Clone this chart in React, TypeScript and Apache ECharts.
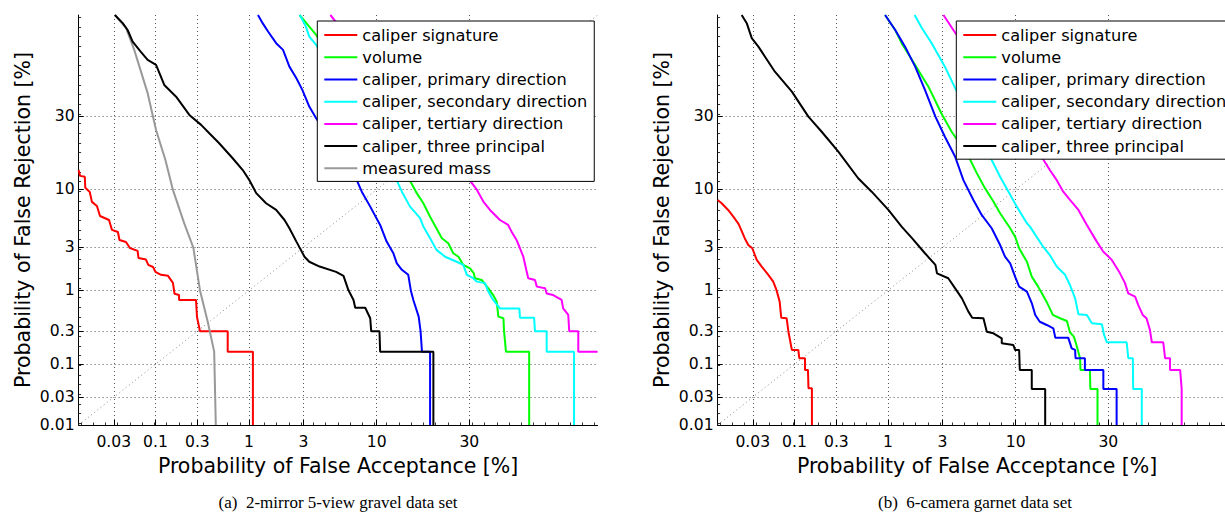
import React, { useEffect, useRef } from "react";
import * as echarts from "echarts";

// ---------- tick labels (percent) ----------
const xTickLabels = [0.03, 0.1, 0.3, 1, 3, 10, 30];
const yTickLabels = [0.01, 0.03, 0.1, 0.3, 1, 3, 10, 30];
const axisMinPct = 0.01;
const axisMaxPct = 70;

const seriesNamesA = [
  "caliper signature",
  "volume",
  "caliper, primary direction",
  "caliper, secondary direction",
  "caliper, tertiary direction",
  "caliper, three principal",
  "measured mass",
];
const seriesNamesB = seriesNamesA.slice(0, 6);
const seriesColors = ["#ff0000", "#00ff00", "#0000ff", "#00ffff", "#ff00ff", "#000000", "#999999"];

const diagonal = [[0.01, 0.01], [70, 70]];

// ---------- panel (a): 2-mirror 5-view gravel data set  [FA %, FR %] ----------
const gravelCaliperSignature = [[0.01,14],[0.0105,12.7],[0.0122,12.5],[0.0124,10.3],[0.0143,9.56],[0.0153,7.93],[0.0179,7.33],[0.0197,5.99],[0.026,5.51],[0.0284,4.46],[0.034,4.26],[0.0356,3.56],[0.0432,3.4],[0.0484,2.96],[0.0605,2.76],[0.062,2.33],[0.0767,2.24],[0.0818,1.96],[0.0935,1.86],[0.0998,1.64],[0.1162,1.52],[0.1404,1.48],[0.16,1.23],[0.167,0.91],[0.188,0.88],[0.188,0.766],[0.29,0.766],[0.297,0.465],[0.32,0.3],[0.621,0.3],[0.621,0.154],[1.09,0.154],[1.09,0.01]];
const gravelVolume = [[2.79,70],[3.34,65.7],[3.78,62.5],[15.65,11.7],[17.0,9.35],[18.4,7.72],[19.9,5.9],[22.7,3.71],[24.3,3.3],[25.6,2.61],[27.0,2.4],[28.3,1.96],[30.2,1.8],[31.3,1.58],[31.6,1.39],[33.6,1.33],[35.6,1.06],[37.1,0.88],[38.2,0.73],[38.7,0.47],[40.3,0.447],[40.5,0.3],[41.1,0.154],[48.6,0.154],[48.6,0.01]];
const gravelPrimary = [[1.215,70],[1.34,67.0],[1.5,63.8],[1.77,59.2],[2.03,56.5],[2.3,49.6],[2.63,44.8],[2.94,40.1],[3.34,33.6],[3.78,29.3],[7.45,11.7],[8.02,9.61],[9.1,7.23],[10.5,4.96],[11.5,3.43],[12.6,2.61],[13.2,2.04],[14.1,1.73],[15.3,1.52],[15.8,1.0],[16.3,0.766],[17.4,0.47],[17.8,0.3],[18.1,0.154],[19.9,0.154],[19.9,0.01]];
const gravelSecondary = [[2.81,70],[3.14,65.7],[3.34,61.8],[3.78,58.5],[13.2,11.7],[14.1,9.61],[15.65,7.23],[17.7,5.72],[18.4,4.79],[19.9,3.71],[21.4,2.83],[23.5,2.4],[26.5,2.12],[28.3,1.96],[29.3,1.52],[31.1,1.39],[32.2,1.27],[34.6,1.22],[35.6,0.97],[37.1,0.766],[39.2,0.6],[45.4,0.6],[45.6,0.455],[50.2,0.455],[50.5,0.3],[54.3,0.3],[54.3,0.154],[63.0,0.154],[63.0,0.01]];
const gravelTertiary = [[4.84,70],[5.25,67.8],[30.2,11.7],[32.2,9.92],[34.1,7.98],[36.1,6.77],[39.2,5.51],[41.8,4.96],[42.9,4.29],[44.5,3.56],[45.6,2.94],[46.7,2.4],[47.8,1.65],[48.3,1.39],[50.5,1.33],[51.1,1.11],[53.8,1.06],[54.3,0.92],[56.4,0.88],[59.1,0.766],[59.6,0.6],[61.2,0.494],[61.5,0.3],[64.3,0.3],[64.3,0.154],[70,0.154]];
const gravelThreePrincipal = [[0.031,70],[0.0392,67.0],[0.0453,64.4],[0.0524,59.8],[0.066,55.8],[0.0804,52.4],[0.1015,50.3],[0.127,42.1],[0.174,37.4],[0.245,30.5],[0.329,27.0],[0.402,24.2],[0.509,21.1],[0.696,16.9],[0.873,14.0],[1.01,11.8],[1.17,9.35],[1.44,7.72],[1.77,6.77],[2.09,5.51],[2.3,4.62],[2.63,3.43],[3.06,2.4],[3.34,2.12],[4.02,1.88],[5.33,1.64],[6.02,1.48],[6.51,1.01],[7.06,0.766],[7.25,0.612],[8.45,0.612],[9.1,0.447],[9.23,0.3],[10.4,0.3],[10.5,0.154],[20.66,0.154],[20.66,0.01]];
const gravelMeasuredMass = [[0.031,70],[0.0432,65.2],[0.0549,56.5],[0.0804,38.8],[0.1015,25.3],[0.131,16.45],[0.16,9.92],[0.214,5.18],[0.271,2.99],[0.32,1.0],[0.387,0.402],[0.452,0.154],[0.47,0.01]];

// ---------- panel (b): 6-camera garnet data set  [FA %, FR %] ----------
const garnetCaliperSignature = [[0.01,8.23],[0.0114,7.72],[0.014,6.77],[0.0165,5.9],[0.0192,5.14],[0.0197,4.96],[0.0235,3.71],[0.0262,3.17],[0.0296,2.94],[0.0338,2.22],[0.0392,1.88],[0.0476,1.52],[0.0549,1.27],[0.0605,1.0],[0.066,0.73],[0.069,0.455],[0.0804,0.447],[0.0845,0.295],[0.093,0.163],[0.111,0.163],[0.114,0.123],[0.133,0.123],[0.133,0.082],[0.144,0.082],[0.146,0.042],[0.16,0.042],[0.16,0.01]];
const garnetVolume = [[0.94,70],[1.17,64.4],[1.34,59.2],[1.77,50.3],[2.3,41.4],[2.94,31.1],[3.55,24.7],[4.26,20.1],[4.92,16.45],[5.48,13.3],[6.28,10.2],[7.16,7.98],[7.94,6.34],[9.23,4.62],[9.91,3.84],[10.5,2.94],[11.7,2.12],[12.5,1.45],[13.6,1.11],[14.3,0.92],[15.3,0.7],[16.4,0.494],[17.9,0.447],[19.4,0.412],[20.1,0.29],[21.0,0.252],[21.5,0.203],[22.5,0.123],[22.6,0.082],[25.0,0.082],[25.1,0.041],[27.0,0.041],[27.0,0.01]];
const garnetPrimary = [[0.94,70],[1.17,64.4],[1.44,57.8],[1.77,49.6],[2.15,40.1],[2.63,29.9],[3.14,23.1],[3.78,17.3],[4.37,11.8],[5.18,8.23],[5.94,6.12],[6.97,4.62],[7.94,3.17],[8.55,2.4],[9.23,2.04],[9.91,1.45],[10.5,1.11],[11.7,0.97],[12.5,0.7],[13.1,0.494],[13.9,0.402],[15.2,0.364],[16.5,0.328],[16.9,0.244],[19.7,0.244],[20.5,0.172],[21.3,0.163],[21.4,0.123],[23.7,0.123],[23.7,0.082],[28.6,0.082],[28.6,0.041],[32.4,0.041],[32.4,0.01]];
const garnetSecondary = [[1.75,70],[2.03,65.1],[2.45,59.2],[3.14,49.6],[3.78,40.8],[6.97,16.45],[7.94,12.5],[9.0,9.61],[10.15,7.23],[11.7,5.14],[12.2,4.79],[14.3,3.17],[15.8,2.5],[17.2,1.88],[19.0,1.52],[20.1,1.16],[21.3,0.8],[22.1,0.504],[24.2,0.494],[25.5,0.384],[28.2,0.373],[28.8,0.266],[29.6,0.21],[35.4,0.21],[35.9,0.123],[37.3,0.123],[37.4,0.041],[40.1,0.041],[40.1,0.01]];
const garnetTertiary = [[3.06,70],[3.66,64.4],[14.6,16.45],[15.8,14.0],[17.2,11.8],[18.6,9.61],[20.1,8.23],[22.1,6.77],[24.2,4.96],[26.8,3.43],[28.6,2.71],[31.0,2.22],[33.4,1.58],[34.9,1.22],[35.9,0.92],[38.0,0.84],[39.0,0.66],[40.4,0.494],[41.6,0.447],[42.7,0.31],[43.3,0.21],[47.0,0.21],[47.6,0.123],[49.2,0.123],[49.2,0.082],[52.5,0.082],[53.0,0.041],[53.0,0.01]];
const garnetThreePrincipal = [[0.0214,70],[0.025,67.0],[0.0291,61.2],[0.0355,57.8],[0.0432,53.7],[0.0576,47.5],[0.093,39.4],[0.1456,29.9],[0.2066,24.7],[0.3147,18.7],[0.509,12.2],[0.696,9.61],[1.01,6.77],[1.34,4.79],[1.66,3.71],[2.15,2.61],[2.63,1.96],[2.71,1.58],[3.34,1.39],[3.78,1.06],[4.26,0.8],[4.76,0.545],[5.08,0.455],[6.11,0.447],[6.45,0.295],[7.16,0.28],[8.14,0.239],[8.14,0.203],[9.66,0.192],[9.91,0.163],[10.5,0.163],[10.6,0.082],[12.5,0.082],[12.5,0.041],[14.9,0.041],[14.9,0.01]];

const captionA = "(a)\u00a0\u00a02-mirror 5-view gravel data set";
const captionB = "(b)\u00a0\u00a06-camera garnet data set";

// ---------- normal-deviate (DET) scale ----------
function probit(p: number): number {
  const a = [-3.969683028665376e1, 2.209460984245205e2, -2.759285104469687e2, 1.38357751867269e2, -3.066479806614716e1, 2.506628277459239];
  const b = [-5.447609879822406e1, 1.615858368580409e2, -1.556989798598866e2, 6.680131188771972e1, -1.328068155288572e1];
  const c = [-7.784894002430293e-3, -3.223964580411365e-1, -2.400758277161838, -2.549732539343734, 4.374664141464968, 2.938163982698783];
  const d = [7.784695709041462e-3, 3.224671290700398e-1, 2.445134137142996, 3.754408661907416];
  const pl = 0.02425;
  if (p < pl) {
    const q = Math.sqrt(-2 * Math.log(p));
    return (((((c[0] * q + c[1]) * q + c[2]) * q + c[3]) * q + c[4]) * q + c[5]) / ((((d[0] * q + d[1]) * q + d[2]) * q + d[3]) * q + 1);
  }
  if (p <= 1 - pl) {
    const q = p - 0.5, r = q * q;
    return ((((((a[0] * r + a[1]) * r + a[2]) * r + a[3]) * r + a[4]) * r + a[5]) * q) / (((((b[0] * r + b[1]) * r + b[2]) * r + b[3]) * r + b[4]) * r + 1);
  }
  const q = Math.sqrt(-2 * Math.log(1 - p));
  return -(((((c[0] * q + c[1]) * q + c[2]) * q + c[3]) * q + c[4]) * q + c[5]) / ((((d[0] * q + d[1]) * q + d[2]) * q + d[3]) * q + 1);
}
const z = (pct: number) => probit(pct / 100);
const toDet = (pts: number[][]) => pts.map(([fa, fr]) => [z(fa), z(fr)]);

const FONT = "DejaVu Sans";

export default function App() {
  const ref = useRef<HTMLDivElement>(null);
  useEffect(() => {
    if (!ref.current) return;
    const chart = echarts.init(ref.current, null, { renderer: "svg" });
    const zmin = z(axisMinPct);
    const zmax = z(axisMaxPct);
    const minor: number[] = [];
    for (let k = Math.ceil(zmin * 10); k <= Math.floor(zmax * 10); k++) minor.push(k / 10);

    const labelFor = (list: number[]) => (v: number) => {
      let best = list[0];
      let bd = Infinity;
      for (const t of list) {
        const dd = Math.abs(z(t) - v);
        if (dd < bd) { bd = dd; best = t; }
      }
      return String(best);
    };

    const mainX = (gi: number) => ({
      type: "value", gridIndex: gi, min: zmin, max: zmax, position: "bottom",
      name: "Probability of False Acceptance [%]", nameLocation: "middle", nameGap: 30,
      nameTextStyle: { fontFamily: FONT, fontSize: 20.5, color: "#000" },
      axisLine: { show: true, onZero: false, lineStyle: { color: "#000", width: 1 } },
      axisTick: { show: true, inside: true, length: 5, customValues: xTickLabels.map(z), lineStyle: { color: "#000" } },
      axisLabel: { show: true, customValues: xTickLabels.map(z), formatter: labelFor(xTickLabels), margin: 9, fontFamily: FONT, fontSize: 15.6, color: "#000" },
      splitLine: { show: true, lineStyle: { color: "#555", type: [1, 3], width: 1 } },
    });
    const minorX = (gi: number) => ({
      type: "value", gridIndex: gi, min: zmin, max: zmax, position: "bottom",
      axisLine: { show: false, onZero: false }, axisLabel: { show: false }, splitLine: { show: false },
      axisTick: { show: true, inside: true, length: 2.5, customValues: minor, lineStyle: { color: "#333" } },
    });
    const mainY = (gi: number) => ({
      type: "value", gridIndex: gi, min: zmin, max: zmax, position: "left",
      name: "Probability of False Rejection [%]", nameLocation: "middle", nameGap: 45, nameRotate: 90,
      nameTextStyle: { fontFamily: FONT, fontSize: 20.5, color: "#000" },
      axisLine: { show: true, onZero: false, lineStyle: { color: "#000", width: 1 } },
      axisTick: { show: true, inside: true, length: 5, customValues: yTickLabels.map(z), lineStyle: { color: "#000" } },
      axisLabel: { show: true, customValues: yTickLabels.map(z), formatter: labelFor(yTickLabels), margin: 4, fontFamily: FONT, fontSize: 15.6, color: "#000" },
      splitLine: { show: true, lineStyle: { color: "#555", type: [1, 3], width: 1 } },
    });
    const minorY = (gi: number) => ({
      type: "value", gridIndex: gi, min: zmin, max: zmax, position: "left",
      axisLine: { show: false, onZero: false }, axisLabel: { show: false }, splitLine: { show: false },
      axisTick: { show: true, inside: true, length: 2.5, customValues: minor, lineStyle: { color: "#333" } },
    });

    const lineSeries = (name: string, data: number[][], color: string, axis: number) => ({
      type: "line", name, data: toDet(data), xAxisIndex: axis, yAxisIndex: axis,
      showSymbol: false, symbol: "none", lineStyle: { color, width: 2 }, itemStyle: { color },
      emphasis: { disabled: true }, clip: true, z: 3,
    });
    const diagSeries = (axis: number) => ({
      type: "line", name: "diag", data: toDet(diagonal), xAxisIndex: axis, yAxisIndex: axis,
      showSymbol: false, symbol: "none", lineStyle: { color: "#888", width: 1, type: [1, 3] },
      emphasis: { disabled: true }, silent: true, z: 2,
    });

    const dataA = [gravelCaliperSignature, gravelVolume, gravelPrimary, gravelSecondary, gravelTertiary, gravelMeasuredMass, gravelThreePrincipal];
    const namesAOrder = [0, 1, 2, 3, 4, 6, 5];
    const dataB = [garnetCaliperSignature, garnetVolume, garnetPrimary, garnetSecondary, garnetTertiary, garnetThreePrincipal];

    const series: any[] = [diagSeries(0), diagSeries(2)];
    dataA.forEach((d, i) => {
      const ni = namesAOrder[i];
      series.push(lineSeries(seriesNamesA[ni], d, seriesColors[ni], 0));
    });
    dataB.forEach((d, i) => series.push(lineSeries(seriesNamesB[i], d, seriesColors[i], 2)));

    const legendBase = {
      orient: "vertical", top: 21, itemWidth: 33, itemHeight: 2, itemGap: 0, icon: "rect",
      backgroundColor: "#fff", borderColor: "#000", borderWidth: 1, borderRadius: 0,
      padding: [3, 7, 2, 7], selectedMode: false, inactiveColor: "#000",
      textStyle: { fontFamily: FONT, fontSize: 16.2, color: "#000", lineHeight: 22.2 },
    };

    chart.setOption({
      animation: false,
      backgroundColor: "#fff",
      grid: [
        { left: 78.6, top: 15, width: 519, height: 410 },
        { left: 717.6, top: 15, width: 519, height: 410 },
      ],
      xAxis: [mainX(0), minorX(0), mainX(1), minorX(1)],
      yAxis: [mainY(0), minorY(0), mainY(1), minorY(1)],
      legend: [
        { ...legendBase, left: 317.3, data: seriesNamesA },
        { ...legendBase, left: 956.3, data: seriesNamesB },
      ],
      graphic: [
        { type: "text", x: 338, y: 502, style: { text: captionA, fontFamily: "Liberation Serif", fontSize: 17, fill: "#000", align: "center", verticalAlign: "middle" } },
        { type: "text", x: 975, y: 502, style: { text: captionB, fontFamily: "Liberation Serif", fontSize: 17, fill: "#000", align: "center", verticalAlign: "middle" } },
      ],
      series,
    });
    return () => chart.dispose();
  }, []);
  return (
    <div
      ref={ref}
      style={{ position: "fixed", left: 0, top: 0, width: 1270, height: 515, background: "#fff" }}
    />
  );
}
